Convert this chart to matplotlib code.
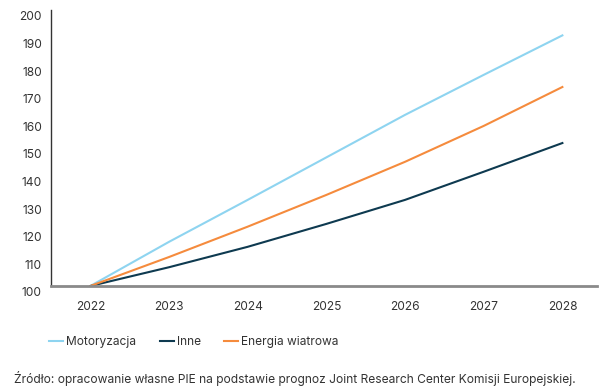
import matplotlib
matplotlib.use('Agg')
import matplotlib.pyplot as plt
import matplotlib.transforms as mtransforms
from matplotlib.lines import Line2D

plt.rcParams['font.family'] = ['Inter', 'DejaVu Sans']

years = [2022, 2023, 2024, 2025, 2026, 2027, 2028]
motoryzacja = [100, 116, 131.2, 146.6, 162, 176.5, 190.8]
inne = [100, 106.8, 114.2, 122.5, 131.2, 141.4, 151.8]
energia = [100, 110.5, 121.5, 133, 145, 158, 172.1]

series_names = ['Motoryzacja', 'Inne', 'Energia wiatrowa']
colors = ['#8ed4f0', '#0e3a50', '#f58b3d']
legend_x = [49, 160, 224]  # początek każdej pozycji legendy (px)

W, H = 616, 390
fig = plt.figure(figsize=(6.16, 3.9), dpi=100)
ax = fig.add_axes([51 / W, 1 - 286 / H, (597 - 51) / W, (286 - 10) / H])

for vals, c in zip([motoryzacja, inne, energia], colors):
    ax.plot(years, vals, color=c, lw=1.5)

ax.set_xlim(2021.5, 2028.44)
ax.set_ylim(100, 200)
ax.set_xticks(years)
ax.set_yticks(range(100, 201, 10))
ax.tick_params(length=0, labelsize=8.6, colors='#333333')
ax.tick_params(axis='x', pad=11)
ax.tick_params(axis='y', pad=6.5)
# etykiety osi Y lekko przesunięte w dół, jak w oryginale
shift = mtransforms.ScaledTranslation(0, -6 / 100, fig.dpi_scale_trans)
for lab in ax.get_yticklabels():
    lab.set_transform(lab.get_transform() + shift)

for s in ['top', 'right']:
    ax.spines[s].set_visible(False)
ax.spines['left'].set_color('#333333')
ax.spines['left'].set_linewidth(1)
ax.spines['bottom'].set_color('#8a8a8a')
ax.spines['bottom'].set_linewidth(2)

for name, c, lx in zip(series_names, colors, legend_x):
    leg = fig.legend([Line2D([], [], color=c, lw=1.5)], [name], loc='center left',
                     bbox_to_anchor=(lx / W, 1 - 342 / H), frameon=False, fontsize=8.6,
                     handlelength=1.15, handletextpad=0.25, borderpad=0, borderaxespad=0,
                     labelcolor='#333333')

fig.text(14 / W, 1 - 378 / H,
         'Źródło: opracowanie własne PIE na podstawie prognoz Joint Research Center Komisji Europejskiej.',
         fontsize=8.65, color='#333333', va='center', ha='left')

fig.savefig('out.png', dpi=100)
